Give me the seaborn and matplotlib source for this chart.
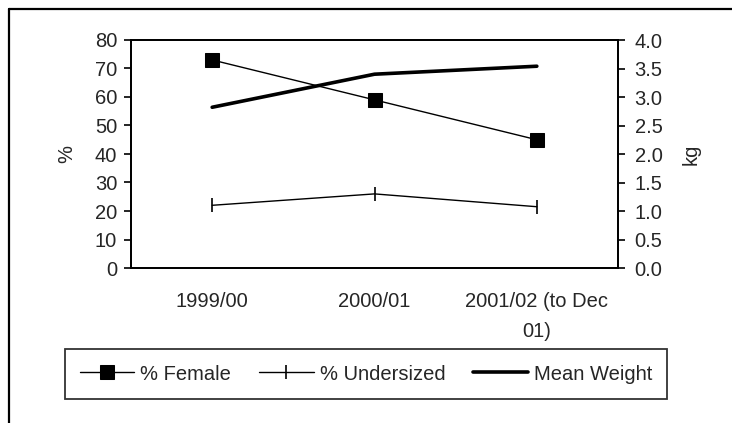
import matplotlib
matplotlib.use("Agg")
import matplotlib.pyplot as plt
import seaborn as sns
import pandas as pd
from matplotlib.lines import Line2D

categories = ["1999/00", "2000/01", "2001/02 (to Dec\n01)"]
pct_female = [73, 59, 45]
pct_undersized = [22, 26, 21.5]
mean_weight = [2.82, 3.40, 3.54]

sns.set_style("white")
plt.rcParams["font.family"] = ["Liberation Sans", "DejaVu Sans"]
FS = 14.5

df = pd.DataFrame({
    "pos": list(range(len(categories))),
    "female": pct_female,
    "undersized": pct_undersized,
    "weight": mean_weight,
})

fig = plt.figure(figsize=(7.32, 4.23), dpi=100)
ax = fig.add_axes([131 / 732, 1 - 268 / 423, (618 - 131) / 732, (268 - 40) / 423])
ax2 = ax.twinx()

sns.lineplot(data=df, x="pos", y="female", ax=ax, color="black", lw=1.0,
             marker="s", markersize=9.5, markeredgecolor="black", label="% Female", legend=False)
sns.lineplot(data=df, x="pos", y="undersized", ax=ax, color="black", lw=1.0,
             marker="|", markersize=10, markeredgewidth=1.2, markeredgecolor="black",
             label="% Undersized", legend=False)
sns.lineplot(data=df, x="pos", y="weight", ax=ax2, color="black", lw=2.6,
             label="Mean Weight", legend=False)

ax.set_xlim(-0.5, len(categories) - 0.5)
ax.set_ylim(0, 80)
ax2.set_ylim(0, 4.0)
ax.set_yticks(range(0, 81, 10))
ax2.set_yticks([i * 0.5 for i in range(9)])
ax2.set_yticklabels([f"{i * 0.5:.1f}" for i in range(9)])

ax.set_xticks(range(len(categories)))
ax.set_xticklabels(categories, fontsize=FS, linespacing=1.75, va="top")
ax.set_xticks([i - 0.5 for i in range(len(categories) + 1)], minor=True)
ax.tick_params(axis="x", which="major", length=0, pad=17)
ax.tick_params(axis="x", which="minor", length=5, width=1.2, direction="out", color="black")
ax.tick_params(axis="y", length=5, width=1.2, direction="out", color="black", labelsize=FS, pad=5)
ax2.tick_params(axis="y", length=5, width=1.2, direction="out", color="black", labelsize=FS, pad=7)

ax.set_xlabel("")
ax.set_ylabel("%", fontsize=FS, labelpad=13)
ax2.set_ylabel("kg", fontsize=FS, rotation=90, labelpad=14)

for a in (ax, ax2):
    for s in a.spines.values():
        s.set_visible(True)
        s.set_color("black")
        s.set_linewidth(1.3)

h1, l1 = ax.get_legend_handles_labels()
h2, l2 = ax2.get_legend_handles_labels()
leg = fig.legend(h1 + h2, l1 + l2, loc="center", bbox_to_anchor=(366 / 732, 1 - 374 / 423),
                 ncol=3, fontsize=FS, frameon=True, fancybox=False, edgecolor="black",
                 handlelength=2.7, columnspacing=1.4, handletextpad=0.3, borderpad=0.75,
                 borderaxespad=0)
leg.get_frame().set_linewidth(1.3)

fig.add_artist(Line2D([9 / 732, 9 / 732], [0, 1 - 9 / 423], transform=fig.transFigure,
                      color="black", lw=1.6))
fig.add_artist(Line2D([9 / 732, 1], [1 - 9 / 423, 1 - 9 / 423], transform=fig.transFigure,
                      color="black", lw=1.6))

fig.savefig("out.png", dpi=100, facecolor="white")
